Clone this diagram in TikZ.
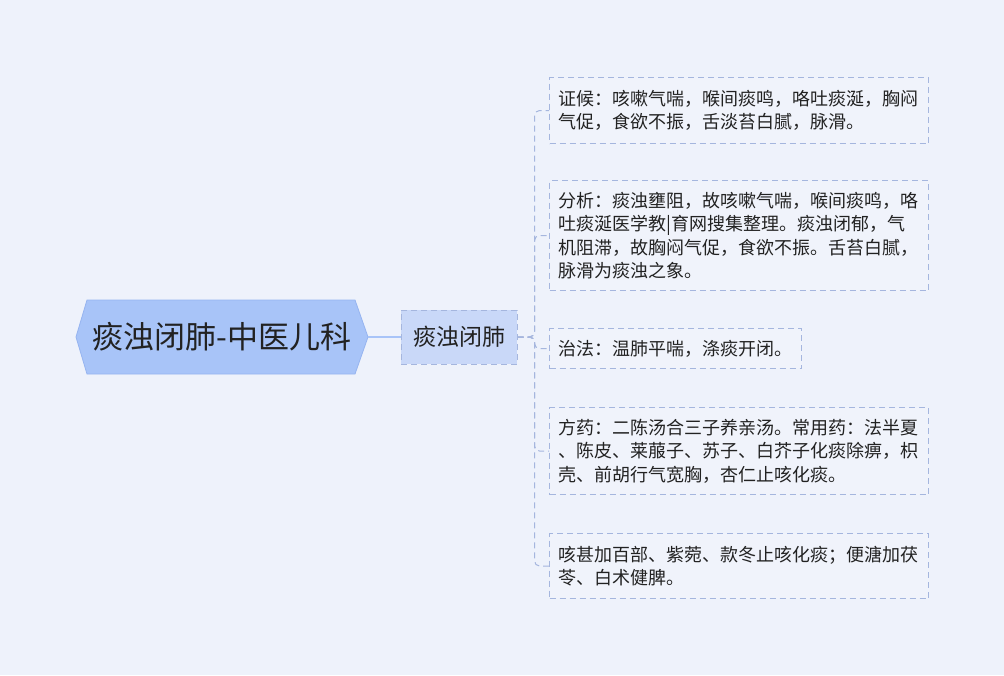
\documentclass[tikz,border=0pt]{standalone}
\usepackage{fontspec}
\setmainfont{Noto Sans CJK SC}
\definecolor{bgblue}{RGB}{238,242,251}
\definecolor{hexblue}{RGB}{168,196,248}
\definecolor{hexline}{RGB}{150,180,240}
\definecolor{subblue}{RGB}{201,216,248}
\definecolor{dashblue}{RGB}{165,182,222}
\definecolor{leaffill}{RGB}{240,243,251}
\definecolor{txt}{RGB}{34,34,34}
\tikzset{
	leaf/.style={draw=dashblue, fill=leaffill, line width=1pt, dash pattern=on 6pt off 4pt, anchor=north west, align=left, inner xsep=9pt, inner ysep=0pt, text=txt, font=\fontsize{18}{23.5}\selectfont},
	sub/.style={draw=dashblue, fill=subblue, line width=1pt, dash pattern=on 6pt off 4pt, minimum width=116pt, minimum height=54pt, inner sep=0pt, text=txt, font=\fontsize{23}{28}\selectfont},
	title/.style={minimum width=292pt, minimum height=74pt, inner sep=0pt, text=txt, font=\fontsize{31}{36}\selectfont},
	link/.style={draw=hexblue, line width=1.5pt},
	branch/.style={draw=dashblue, line width=1pt, dash pattern=on 6pt off 4pt, rounded corners=5pt}
}
\begin{document}
	\begin{tikzpicture}[x=1pt, y={(0,-1pt)}]
		\fill[bgblue] (0,0) rectangle (1004,675);
		\useasboundingbox (0,0) rectangle (1004,675);
		% hexagon behind the title
		\filldraw[fill=hexblue, draw=hexline, line width=0.8pt] (76,337) -- (87,300) -- (355,300) -- (368,337) -- (355,374) -- (87,374) -- cycle;
		\node[title] (t) at (222,337) {痰浊闭肺-中医儿科};
		\node[sub] (m) at (459,337) {痰浊闭肺};
		\node[leaf, text width=361pt, minimum height=66pt] (z) at (549,77) {证候：咳嗽气喘，喉间痰鸣，咯吐痰涎，胸闷\\气促，食欲不振，舌淡苔白腻，脉滑。};
		\node[leaf, text width=361pt, minimum height=110pt] (f) at (549,180) {分析：痰浊壅阻，故咳嗽气喘，喉间痰鸣，咯\\吐痰涎医学教|育网搜集整理。痰浊闭郁，气\\机阻滞，故胸闷气促，食欲不振。舌苔白腻，\\脉滑为痰浊之象。};
		\node[leaf, text width=234pt, minimum height=40pt] (zf) at (549,328) {治法：温肺平喘，涤痰开闭。};
		\node[leaf, text width=361pt, minimum height=87pt] (fy) at (549,407) {方药：二陈汤合三子养亲汤。常用药：法半夏\\、陈皮、莱菔子、苏子、白芥子化痰除痹，枳\\壳、前胡行气宽胸，杏仁止咳化痰。};
		\node[leaf, text width=361pt, minimum height=65pt] (kj) at (549,533) {咳甚加百部、紫菀、款冬止咳化痰；便溏加茯\\苓、白术健脾。};
		\draw[link] (t) -- (m);
		\foreach \b in {z,f,zf,fy,kj}
			\draw[branch] (m.east) -- ++(17,0) |- (\b.west);
	\end{tikzpicture}
\end{document}
